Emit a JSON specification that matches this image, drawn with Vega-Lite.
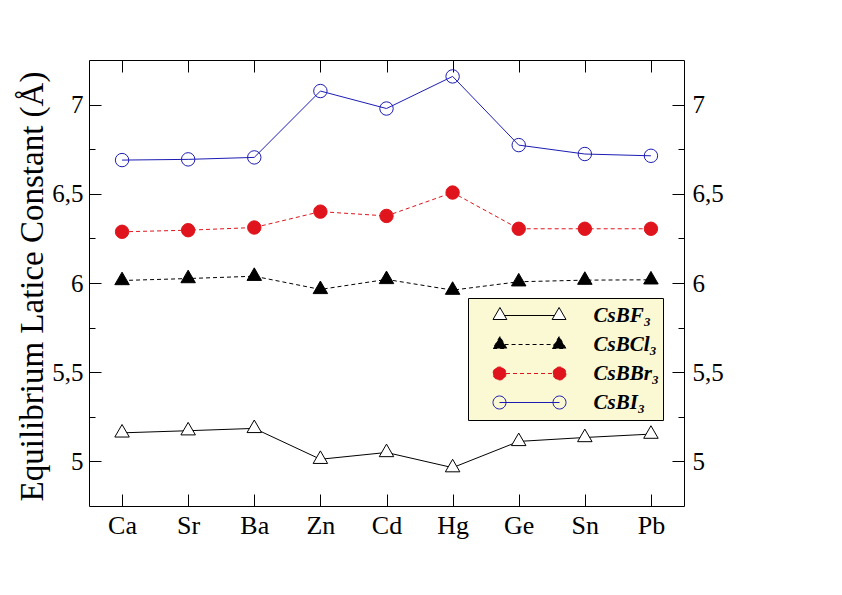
{
  "$schema": "https://vega.github.io/schema/vega-lite/v6.json",
  "width": 595,
  "height": 446,
  "autosize": {"type": "none"},
  "padding": {"left": 89, "top": 60, "right": 158, "bottom": 89},
  "background": "white",
  "config": {
    "view": {"stroke": "black", "strokeWidth": 1},
    "axis": {
      "labelFont": "Liberation Serif",
      "titleFont": "Liberation Serif",
      "labelColor": "black",
      "titleColor": "black",
      "tickColor": "black",
      "tickWidth": 1,
      "domain": false,
      "grid": false,
      "titleFontWeight": "normal"
    }
  },
  "data": {
    "values": [
      {"el": "Ca", "series": "CsBF₃", "v": 5.160},
      {"el": "Sr", "series": "CsBF₃", "v": 5.172},
      {"el": "Ba", "series": "CsBF₃", "v": 5.185},
      {"el": "Zn", "series": "CsBF₃", "v": 5.012},
      {"el": "Cd", "series": "CsBF₃", "v": 5.050},
      {"el": "Hg", "series": "CsBF₃", "v": 4.965},
      {"el": "Ge", "series": "CsBF₃", "v": 5.112},
      {"el": "Sn", "series": "CsBF₃", "v": 5.134},
      {"el": "Pb", "series": "CsBF₃", "v": 5.153},
      {"el": "Ca", "series": "CsBCl₃", "v": 6.014},
      {"el": "Sr", "series": "CsBCl₃", "v": 6.025},
      {"el": "Ba", "series": "CsBCl₃", "v": 6.038},
      {"el": "Zn", "series": "CsBCl₃", "v": 5.964},
      {"el": "Cd", "series": "CsBCl₃", "v": 6.020},
      {"el": "Hg", "series": "CsBCl₃", "v": 5.960},
      {"el": "Ge", "series": "CsBCl₃", "v": 6.007},
      {"el": "Sn", "series": "CsBCl₃", "v": 6.016},
      {"el": "Pb", "series": "CsBCl₃", "v": 6.018},
      {"el": "Ca", "series": "CsBBr₃", "v": 6.287},
      {"el": "Sr", "series": "CsBBr₃", "v": 6.296},
      {"el": "Ba", "series": "CsBBr₃", "v": 6.311},
      {"el": "Zn", "series": "CsBBr₃", "v": 6.400},
      {"el": "Cd", "series": "CsBBr₃", "v": 6.376},
      {"el": "Hg", "series": "CsBBr₃", "v": 6.507},
      {"el": "Ge", "series": "CsBBr₃", "v": 6.304},
      {"el": "Sn", "series": "CsBBr₃", "v": 6.304},
      {"el": "Pb", "series": "CsBBr₃", "v": 6.304},
      {"el": "Ca", "series": "CsBI₃", "v": 6.689},
      {"el": "Sr", "series": "CsBI₃", "v": 6.693},
      {"el": "Ba", "series": "CsBI₃", "v": 6.704},
      {"el": "Zn", "series": "CsBI₃", "v": 7.076},
      {"el": "Cd", "series": "CsBI₃", "v": 6.978},
      {"el": "Hg", "series": "CsBI₃", "v": 7.158},
      {"el": "Ge", "series": "CsBI₃", "v": 6.773},
      {"el": "Sn", "series": "CsBI₃", "v": 6.723},
      {"el": "Pb", "series": "CsBI₃", "v": 6.713}
    ]
  },
  "resolve": {"axis": {"x": "independent", "y": "independent"}},
  "layer": [
    {
      "transform": [{"filter": {"field": "series", "oneOf": ["CsBF₃", "CsBI₃"]}}],
      "mark": {"type": "line", "strokeWidth": 1},
      "encoding": {
        "x": {
          "field": "el", "type": "nominal",
          "sort": ["Ca", "Sr", "Ba", "Zn", "Cd", "Hg", "Ge", "Sn", "Pb"],
          "scale": {"type": "point", "padding": 0.5},
          "axis": {"orient": "bottom", "title": null, "labelFontSize": 26, "labelAngle": 0, "tickSize": -12, "labelPadding": 18}
        },
        "y": {
          "field": "v", "type": "quantitative",
          "scale": {"domain": [4.75, 7.25], "nice": false, "zero": false},
          "axis": {
            "orient": "left", "values": [5, 5.5, 6, 6.5, 7],
            "labelExpr": "replace(format(datum.value, '~g'), '.', ',')",
            "labelFontSize": 25, "tickSize": -12, "labelPadding": 18,
            "title": "Equilibrium Latice Constant (Å)",
            "titleFontSize": 33, "titleX": -47, "titleY": 226, "titleAngle": -90,
            "titleAlign": "center", "titleBaseline": "alphabetic"
          }
        },
        "stroke": {
          "field": "series", "type": "nominal",
          "scale": {"domain": ["CsBF₃", "CsBCl₃", "CsBBr₃", "CsBI₃"], "range": ["black", "black", "#e0141c", "#1c1cb4"]},
          "legend": {
            "orient": "none", "legendX": 379, "legendY": 238,
            "title": null, "padding": 3,
            "fillColor": "#fbf9d4", "strokeColor": "black", "cornerRadius": 0,
            "symbolSize": 5329, "symbolStrokeWidth": 1, "clipHeight": 29, "rowPadding": 0,
            "symbolOffset": 21.5, "labelOffset": 27,
            "labelFont": "Liberation Serif", "labelFontSize": 21, "labelFontWeight": "bold", "labelFontStyle": "italic", "labelColor": "black",
            "labelExpr": "datum.label + '\u2003'",
            "encode": {
              "symbols": {
                "update": {
                  "shape": {"signal": "['M-0.81,-0.219L-1,0.11L-0.62,0.11Z M0.81,-0.219L0.62,0.11L1,0.11Z M-0.683,0L0.683,0','M-0.81,-0.219L-1,0.11L-0.62,0.11Z M0.81,-0.219L0.62,0.11L1,0.11Z M-0.683,0L0.683,0','M-0.644,0C-0.644,0.0983 -0.7237,0.178 -0.822,0.178C-0.9203,0.178 -1,0.0983 -1,0C-1,-0.0983 -0.9203,-0.178 -0.822,-0.178C-0.7237,-0.178 -0.644,-0.0983 -0.644,0Z M1,0C1,0.0983 0.9203,0.178 0.822,0.178C0.7237,0.178 0.644,0.0983 0.644,0C0.644,-0.0983 0.7237,-0.178 0.822,-0.178C0.9203,-0.178 1,-0.0983 1,0Z M-0.644,0L0.644,0','M-0.644,0C-0.644,0.0983 -0.7237,0.178 -0.822,0.178C-0.9203,0.178 -1,0.0983 -1,0C-1,-0.0983 -0.9203,-0.178 -0.822,-0.178C-0.7237,-0.178 -0.644,-0.0983 -0.644,0Z M1,0C1,0.0983 0.9203,0.178 0.822,0.178C0.7237,0.178 0.644,0.0983 0.644,0C0.644,-0.0983 0.7237,-0.178 0.822,-0.178C0.9203,-0.178 1,-0.0983 1,0Z M-0.822,0L0.822,0'][datum.index]"},
                  "fill": {"signal": "['white','black','#e0141c','transparent'][datum.index]"},
                  "strokeDash": {"signal": "[[],[4,3],[4,3],[]][datum.index]"},
                  "strokeWidth": {"value": 1},
                  "opacity": {"value": 1}
                }
              }
            }
          }
        }
      }
    },
    {
      "transform": [{"filter": {"field": "series", "oneOf": ["CsBCl₃", "CsBBr₃"]}}],
      "mark": {"type": "line", "strokeWidth": 1, "strokeDash": [4, 3]},
      "encoding": {
        "x": {
          "field": "el", "type": "nominal",
          "sort": ["Ca", "Sr", "Ba", "Zn", "Cd", "Hg", "Ge", "Sn", "Pb"],
          "scale": {"type": "point", "padding": 0.5},
          "axis": {"orient": "top", "title": null, "labels": false, "tickSize": -12}
        },
        "y": {
          "field": "v", "type": "quantitative",
          "scale": {"domain": [4.75, 7.25], "nice": false, "zero": false},
          "axis": {"orient": "left", "values": [5.25, 5.75, 6.25, 6.75], "labels": false, "title": null, "tickSize": -6}
        },
        "stroke": {
          "field": "series", "type": "nominal",
          "scale": {"domain": ["CsBF₃", "CsBCl₃", "CsBBr₃", "CsBI₃"], "range": ["black", "black", "#e0141c", "#1c1cb4"]}
        }
      }
    },
    {
      "transform": [{"filter": {"field": "series", "oneOf": ["CsBF₃", "CsBCl₃"]}}],
      "mark": {"type": "point", "shape": "M0,-1.155L-1,0.577L1,0.577Z", "size": 210, "filled": false, "strokeWidth": 1, "opacity": 1},
      "encoding": {
        "x": {
          "field": "el", "type": "nominal",
          "sort": ["Ca", "Sr", "Ba", "Zn", "Cd", "Hg", "Ge", "Sn", "Pb"],
          "scale": {"type": "point", "padding": 0.5},
          "axis": null
        },
        "y": {
          "field": "v", "type": "quantitative",
          "scale": {"domain": [4.75, 7.25], "nice": false, "zero": false},
          "axis": {
            "orient": "right", "values": [5, 5.5, 6, 6.5, 7],
            "labelExpr": "replace(format(datum.value, '~g'), '.', ',')",
            "labelFontSize": 25, "tickSize": -12, "labelPadding": 20, "title": null
          }
        },
        "stroke": {
          "field": "series", "type": "nominal",
          "scale": {"domain": ["CsBF₃", "CsBCl₃", "CsBBr₃", "CsBI₃"], "range": ["black", "black", "#e0141c", "#1c1cb4"]}
        },
        "fill": {
          "field": "series", "type": "nominal",
          "scale": {"domain": ["CsBF₃", "CsBCl₃", "CsBBr₃", "CsBI₃"], "range": ["white", "black", "#e0141c", "transparent"]},
          "legend": null
        }
      }
    },
    {
      "transform": [{"filter": {"field": "series", "oneOf": ["CsBBr₃", "CsBI₃"]}}],
      "mark": {"type": "point", "shape": "circle", "size": 180, "filled": false, "strokeWidth": 1, "opacity": 1},
      "encoding": {
        "x": {
          "field": "el", "type": "nominal",
          "sort": ["Ca", "Sr", "Ba", "Zn", "Cd", "Hg", "Ge", "Sn", "Pb"],
          "scale": {"type": "point", "padding": 0.5},
          "axis": null
        },
        "y": {
          "field": "v", "type": "quantitative",
          "scale": {"domain": [4.75, 7.25], "nice": false, "zero": false},
          "axis": {"orient": "right", "values": [5.25, 5.75, 6.25, 6.75], "labels": false, "title": null, "tickSize": -6}
        },
        "stroke": {
          "field": "series", "type": "nominal",
          "scale": {"domain": ["CsBF₃", "CsBCl₃", "CsBBr₃", "CsBI₃"], "range": ["black", "black", "#e0141c", "#1c1cb4"]}
        },
        "fill": {
          "field": "series", "type": "nominal",
          "scale": {"domain": ["CsBF₃", "CsBCl₃", "CsBBr₃", "CsBI₃"], "range": ["white", "black", "#e0141c", "transparent"]},
          "legend": null
        }
      }
    }
  ]
}
